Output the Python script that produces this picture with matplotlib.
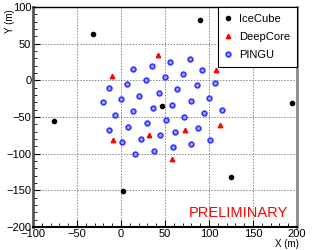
import matplotlib
matplotlib.use("Agg")
import matplotlib.pyplot as plt
from matplotlib.ticker import MultipleLocator

plt.rcParams['font.family'] = ['Liberation Sans', 'DejaVu Sans']

icecube_x = [-32, 90, -76, 47, 194, 2, 125]
icecube_y = [63, 82, -55, -35, -31, -151, -132]

deepcore_x = [-10, 42, 108, -9, 32, 73, 113, 58]
deepcore_y = [6, 35, 14, -81, -74, -68, -61, -107]

pingu_x = [14, 35, 56, 78,
           28, 50, 71, 92,
           -14, 7, 64, 86, 107,
           -21, 0, 21, 43, 58, 79, 100,
           -7, 14, 36, 51, 72, 94, 115,
           -14, 8, 29, 61, 87,
           1, 23, 44, 80, 101,
           16, 37, 59]
pingu_y = [16, 20, 25, 29,
           0, 4, 9, 14,
           -10, -5, -12, -7, -3,
           -30, -26, -21, -17, -33, -28, -24,
           -47, -42, -38, -54, -50, -45, -40,
           -68, -63, -58, -71, -65,
           -84, -80, -75, -87, -82,
           -100, -96, -91]

fig = plt.figure(figsize=(3.32, 2.5), dpi=100)
ax = fig.add_axes([33/332, 1-227/250, 264/332, 220/250])

ax.plot(icecube_x, icecube_y, linestyle='none', marker='o', markersize=3,
        color='black', label='IceCube', zorder=3)
ax.plot(deepcore_x, deepcore_y, linestyle='none', marker='^', markersize=3.2,
        color='red', mec='red', label='DeepCore', zorder=3)
ax.plot(pingu_x, pingu_y, linestyle='none', marker='o', markersize=3.4,
        mfc='#9fa3ff', mec='#3535ff', mew=1.2, label='PINGU', zorder=3)

ax.set_xlim(-100, 200)
ax.set_ylim(-200, 100)
ax.xaxis.set_major_locator(MultipleLocator(50))
ax.xaxis.set_minor_locator(MultipleLocator(10))
ax.yaxis.set_major_locator(MultipleLocator(50))
ax.yaxis.set_minor_locator(MultipleLocator(10))
ax.tick_params(which='both', direction='in', labelsize=8, pad=1.2,
               top=False, right=False)
ax.tick_params(which='major', length=5, width=0.8)
ax.tick_params(which='minor', length=3, width=0.6)
ax.grid(True, which='major', linestyle=(0, (1.5, 1.5)), color='#888888', linewidth=0.7)
ax.set_axisbelow(True)

ax.spines['left'].set_linewidth(2.0)
ax.spines['left'].set_color('#555555')
ax.spines['right'].set_linewidth(2.0)
ax.spines['right'].set_color('#888888')
ax.spines['top'].set_linewidth(1.0)
ax.spines['bottom'].set_linewidth(1.5)

fig.text(299/332, 1-249/250, 'X (m)', ha='right', va='bottom', fontsize=7)
fig.text(10/332, 1-9/250, 'Y (m)', ha='center', va='top', rotation=90, fontsize=7)

ax.text(0.591, 0.045, 'PRELIMINARY', transform=ax.transAxes, color='red',
        fontsize=10.5, ha='left', va='baseline')

leg = ax.legend(loc='upper right', bbox_to_anchor=(1.0, 1.0), fontsize=8,
                frameon=True, fancybox=False, framealpha=1, edgecolor='black',
                borderaxespad=0, handlelength=0.6, handletextpad=0.7,
                labelspacing=0.75, borderpad=0.6)
leg.get_frame().set_linewidth(0.8)

fig.savefig('out.png', dpi=100)
